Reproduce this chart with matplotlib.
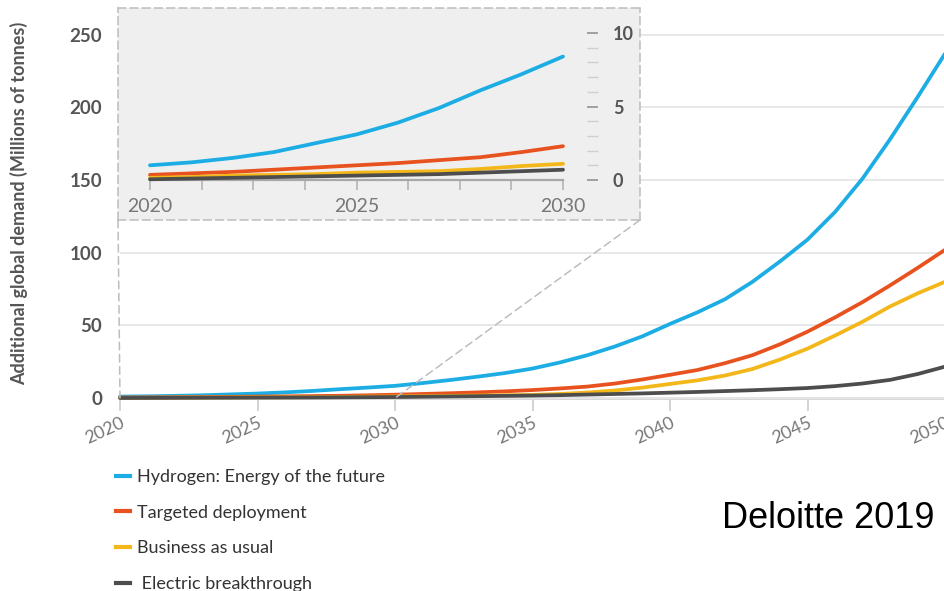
import matplotlib
matplotlib.use("Agg")
import matplotlib.pyplot as plt
from matplotlib.lines import Line2D
from matplotlib.patches import ConnectionPatch
from matplotlib.ticker import MultipleLocator

plt.rcParams['font.family'] = ['Lato', 'DejaVu Sans']

# ---- data -------------------------------------------------------------
years = list(range(2020, 2051))

hydrogen = [1.0, 1.2, 1.5, 1.9, 2.5, 3.1, 3.9, 4.9, 6.1, 7.2, 8.4,
            10.3, 12.4, 14.7, 17.2, 20.3, 24.5, 29.5, 35.5, 42.5, 51,
            59, 68, 80, 94, 109, 128, 151, 178, 207, 237]
targeted = [0.35, 0.45, 0.55, 0.7, 0.85, 1.0, 1.15, 1.35, 1.55, 1.9, 2.3,
            2.8, 3.3, 3.9, 4.6, 5.5, 6.6, 7.9, 10, 12.8, 16,
            19.3, 24, 29.5, 37, 45.7, 55.5, 66, 77.5, 89.5, 102]
business = [0.15, 0.2, 0.3, 0.35, 0.4, 0.5, 0.55, 0.6, 0.75, 0.95, 1.1,
            1.3, 1.5, 1.7, 1.9, 2.2, 2.8, 3.8, 5.2, 7.2, 9.7,
            12.2, 15.5, 20, 26.5, 34, 43, 52.5, 63, 72, 80]
electric = [0.05, 0.1, 0.15, 0.2, 0.25, 0.3, 0.35, 0.4, 0.5, 0.6, 0.7,
            0.9, 1.1, 1.3, 1.5, 1.7, 2.0, 2.4, 2.8, 3.2, 3.7,
            4.2, 4.8, 5.4, 6.1, 6.9, 8.2, 10, 12.5, 16.5, 21.6]

series_labels = ["Hydrogen: Energy of the future", "Targeted deployment",
                 "Business as usual", " Electric breakthrough"]
series_colors = ["#1badE3", "#e8521e", "#f3b71a", "#4d4d4d"]
series_values = [hydrogen, targeted, business, electric]

main_yticks = [0, 50, 100, 150, 200, 250]
main_xticks = [2020, 2025, 2030, 2035, 2040, 2045, 2050]
inset_end = 2030
inset_xticks = [2020, 2025, 2030]
inset_yticks = [0, 5, 10]

# ---- figure -----------------------------------------------------------
W, H = 945, 591
fig = plt.figure(figsize=(W / 100, H / 100), dpi=100)
fig.patch.set_facecolor("white")


def fx(px):
    return px / W


def fy(py):
    return (H - py) / H


# main axes
ax = fig.add_axes([fx(120), fy(399.5), fx(945) - fx(120), fy(26) - fy(399.5)])
ax.set_xlim(2020, 2050)
ax.set_ylim(-1, 256)
for s in ax.spines.values():
    s.set_visible(False)
ax.set_yticks(main_yticks)
ax.set_xticks(main_xticks)
ax.grid(axis="y", color="#e6e6e6", lw=1.3, zorder=0)
ax.axhline(0, color="#d3d3d3", lw=2.0, zorder=1)
ax.tick_params(axis="y", length=0, pad=13, labelsize=13.5,
               labelcolor="#555555")
for lab in ax.get_yticklabels():
    lab.set_fontweight("bold")
ax.tick_params(axis="x", length=8, width=1.2, color="#cccccc", pad=3,
               labelsize=13, labelcolor="#777777")
for lab in ax.get_xticklabels():
    lab.set_rotation(25)
    lab.set_ha("right")
    lab.set_rotation_mode("anchor")

for vals, col in zip(series_values, series_colors):
    ax.plot(years, vals, color=col, lw=2.7, solid_capstyle="round",
            zorder=3, clip_on=False)

fig.text(fx(19), fy(203), "Additional global demand (Millions of tonnes)",
         rotation=90, ha="center", va="center", fontsize=13,
         fontweight="bold", color="#555555")

# inset background box
box = fig.add_axes([fx(118), fy(220), fx(640) - fx(118), fy(8) - fy(220)])
box.set_facecolor("#efefef")
box.set_xticks([])
box.set_yticks([])
for s in box.spines.values():
    s.set_linestyle((0, (5, 3)))
    s.set_color("#bdbdbd")
    s.set_linewidth(1.1)

# connector lines from the box to the zoomed range on the main axes
for corner, xval in (((0, 0), 2020), ((1, 0), inset_end)):
    con = ConnectionPatch(xyA=corner, coordsA=box.transAxes,
                          xyB=(xval, 0), coordsB=ax.transData,
                          color="#bdbdbd", lw=1.1,
                          linestyle=(0, (5, 3)))
    fig.add_artist(con)

# inset axes
n_in = years.index(inset_end) + 1
ain = fig.add_axes([fx(150), fy(180), fx(563) - fx(150), fy(28.6) - fy(180)])
ain.patch.set_visible(False)
ain.set_xlim(2020, inset_end)
ain.set_ylim(0, 10.3)
for s in ("top", "left"):
    ain.spines[s].set_visible(False)
ain.spines["bottom"].set_color("#a8a8a8")
ain.spines["bottom"].set_linewidth(1.6)
ain.spines["right"].set_position(("outward", 17))
ain.spines["right"].set_visible(False)
ain.yaxis.tick_right()
ain.set_xticks(inset_xticks)
ain.xaxis.set_minor_locator(MultipleLocator(1.25))
ain.tick_params(axis="x", which="both", length=7, width=1.2,
                color="#b5b5b5", direction="out")
ain.tick_params(axis="x", which="major", pad=6, labelsize=14,
                labelcolor="#777777")
ain.set_yticks(inset_yticks)
ain.yaxis.set_minor_locator(MultipleLocator(1))
ain.tick_params(axis="y", which="major", length=8, width=1.3,
                color="#9a9a9a", pad=11, labelsize=13, labelcolor="#555555")
ain.tick_params(axis="y", which="minor", length=8, width=1.0,
                color="#cfcfcf")
for lab in ain.get_yticklabels():
    lab.set_fontweight("bold")

for vals, col in zip(series_values, series_colors):
    ain.plot(years[:n_in], vals[:n_in], color=col, lw=2.7,
             solid_capstyle="round", zorder=3, clip_on=False)

# legend
handles = [Line2D([], [], color=c, lw=3) for c in series_colors]
fig.legend(handles, series_labels, loc="upper left",
           bbox_to_anchor=(fx(116), fy(469)), frameon=False,
           handlelength=0.8, handletextpad=0.35, labelspacing=1.09,
           borderpad=0, borderaxespad=0, fontsize=13,
           labelcolor="#333333")

fig.text(fx(722), fy(528), "Deloitte 2019", fontsize=26,
         family="Liberation Sans", color="black", ha="left",
         va="baseline")

fig.savefig("out.png", dpi=100, facecolor="white")
